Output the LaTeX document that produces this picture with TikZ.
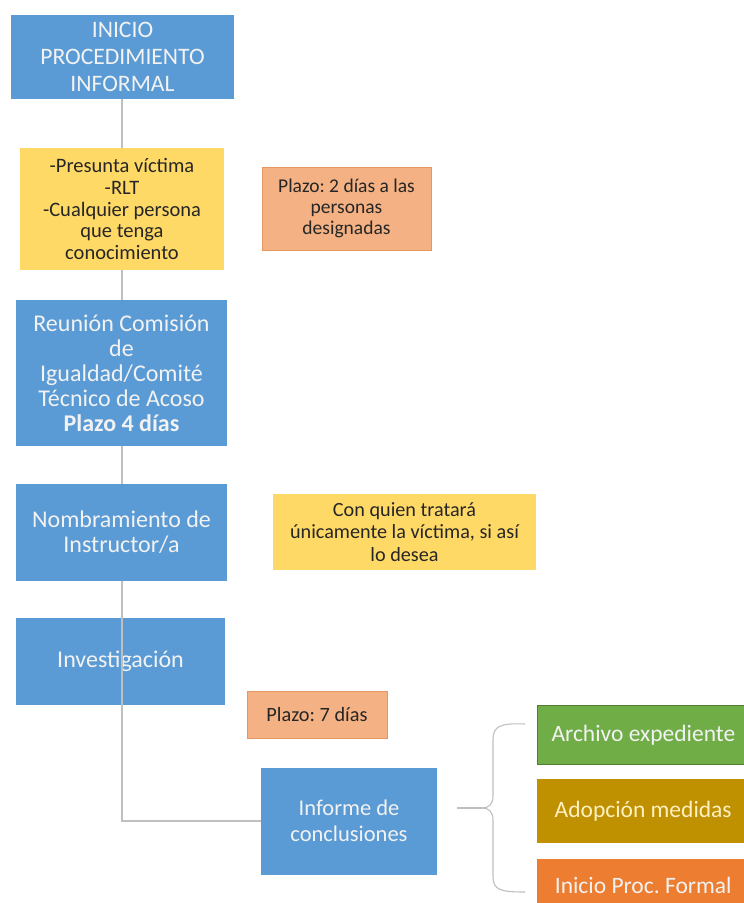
\documentclass[tikz,border=0pt]{standalone}
\usepackage{fontspec}
\setmainfont{Carlito}
\frenchspacing
\definecolor{cblue}{HTML}{5B9BD5}
\definecolor{cyellow}{HTML}{FFD966}
\definecolor{csalmon}{HTML}{F4B183}
\definecolor{csalmonb}{HTML}{E8955F}
\definecolor{cgreen}{HTML}{70AD47}
\definecolor{cgreenb}{HTML}{507E32}
\definecolor{cgold}{HTML}{BF9000}
\definecolor{corange}{HTML}{ED7D31}
\definecolor{cline}{HTML}{BFBFBF}
\definecolor{ctext}{HTML}{262626}
\definecolor{cwhite}{HTML}{F2F2F2}
\begin{document}
\begin{tikzpicture}[x=1pt,y=-1pt,
  bluebox/.style={fill=cblue,draw=none,text=cwhite,align=center,inner sep=1pt,
    font=\fontsize{24}{25}\selectfont},
  yelbox/.style={fill=cyellow,draw=none,text=ctext,align=center,inner sep=1pt,
    font=\fontsize{20.5}{21.7}\selectfont},
  salbox/.style={fill=csalmon,draw=csalmonb,line width=0.8pt,text=ctext,align=center,inner sep=1pt,
    font=\fontsize{19.5}{21}\selectfont},
  resbox/.style={text=cwhite,align=center,inner sep=1pt,minimum width=212pt,
    font=\fontsize{23.5}{24}\selectfont},
  conn/.style={draw=cline,line width=1.3pt}]
\useasboundingbox (0,0) rectangle (744,903);
\fill[white] (0,0) rectangle (744,903);

\node[bluebox,minimum width=223pt,minimum height=84pt,font=\fontsize{23.6}{27}\selectfont] (b1) at (122.5,57) {INICIO\\PROCEDIMIENTO\\INFORMAL};
\node[yelbox,minimum width=204pt,minimum height=122pt] (b2) at (122,209) {-Presunta víctima\\-RLT\\-Cualquier persona\\que tenga\\conocimiento};
\node[salbox,minimum width=169pt,minimum height=83pt] (p2) at (346.5,208.5) {Plazo: 2 días a las\\personas\\designadas};
\node[bluebox,minimum width=211pt,minimum height=146pt] (b3) at (121.5,373) {Reunión Comisión\\de\\Igualdad/Comité\\Técnico de Acoso\\\textbf{Plazo 4 días}};
\node[bluebox,minimum width=211pt,minimum height=97pt] (b4) at (121.5,532.5) {Nombramiento de\\Instructor/a};
\node[yelbox,minimum width=263pt,minimum height=76pt,font=\fontsize{20.2}{22.5}\selectfont] (cq) at (404.5,532) {Con quien tratará\\únicamente la víctima, si así\\lo desea};
\node[bluebox,minimum width=209pt,minimum height=87pt] (b5) at (120.5,661.5) {Investigación};
\node[salbox,minimum width=140pt,minimum height=47pt,font=\fontsize{20.3}{22}\selectfont] (p7) at (317,714.5) {Plazo: 7 días};
\node[bluebox,minimum width=176pt,minimum height=107pt,font=\fontsize{22.5}{26}\selectfont] (inf) at (349,821) {Informe de\\conclusiones};

\node[resbox,fill=cgreen,draw=cgreenb,line width=0.8pt,minimum height=59pt,anchor=north west] (r1) at (537,705) {Archivo expediente};
\node[resbox,fill=cgold,minimum height=64pt,anchor=north west,text=cyellow!40!white] (r2) at (537,779) {Adopción medidas};
\node[resbox,fill=corange,minimum height=53pt,anchor=north west] (r3) at (537,859) {Inicio Proc. Formal};

% vertical spine
\draw[conn] (b1.south -| b2) -- (b2.north);
\draw[conn] (b2.south) -- (b3.north -| b2);
\draw[conn] (b3.south -| b2) -- (b4.north -| b2);
\draw[conn] (b4.south -| b2) -- (b5.south -| b2);
\draw[conn] (b5.south -| b2) |- (inf.west);

% brace
\coordinate (bt) at (457,808);
\coordinate (bm) at (482,808);
\coordinate (btop) at (525,724);
\coordinate (bbot) at (525,892);
\draw[conn,line width=1.1pt] (bt) -- (bm);
\draw[conn,line width=1.1pt] (btop) .. controls (500,723) and (493,726) .. (493,740) -- (493,796) .. controls (493,804) and (489,808) .. (bm);
\draw[conn,line width=1.1pt] (bm) .. controls (489,808) and (493,812) .. (493,820) -- (493,876) .. controls (493,890) and (500,892) .. (bbot);
\end{tikzpicture}
\end{document}
